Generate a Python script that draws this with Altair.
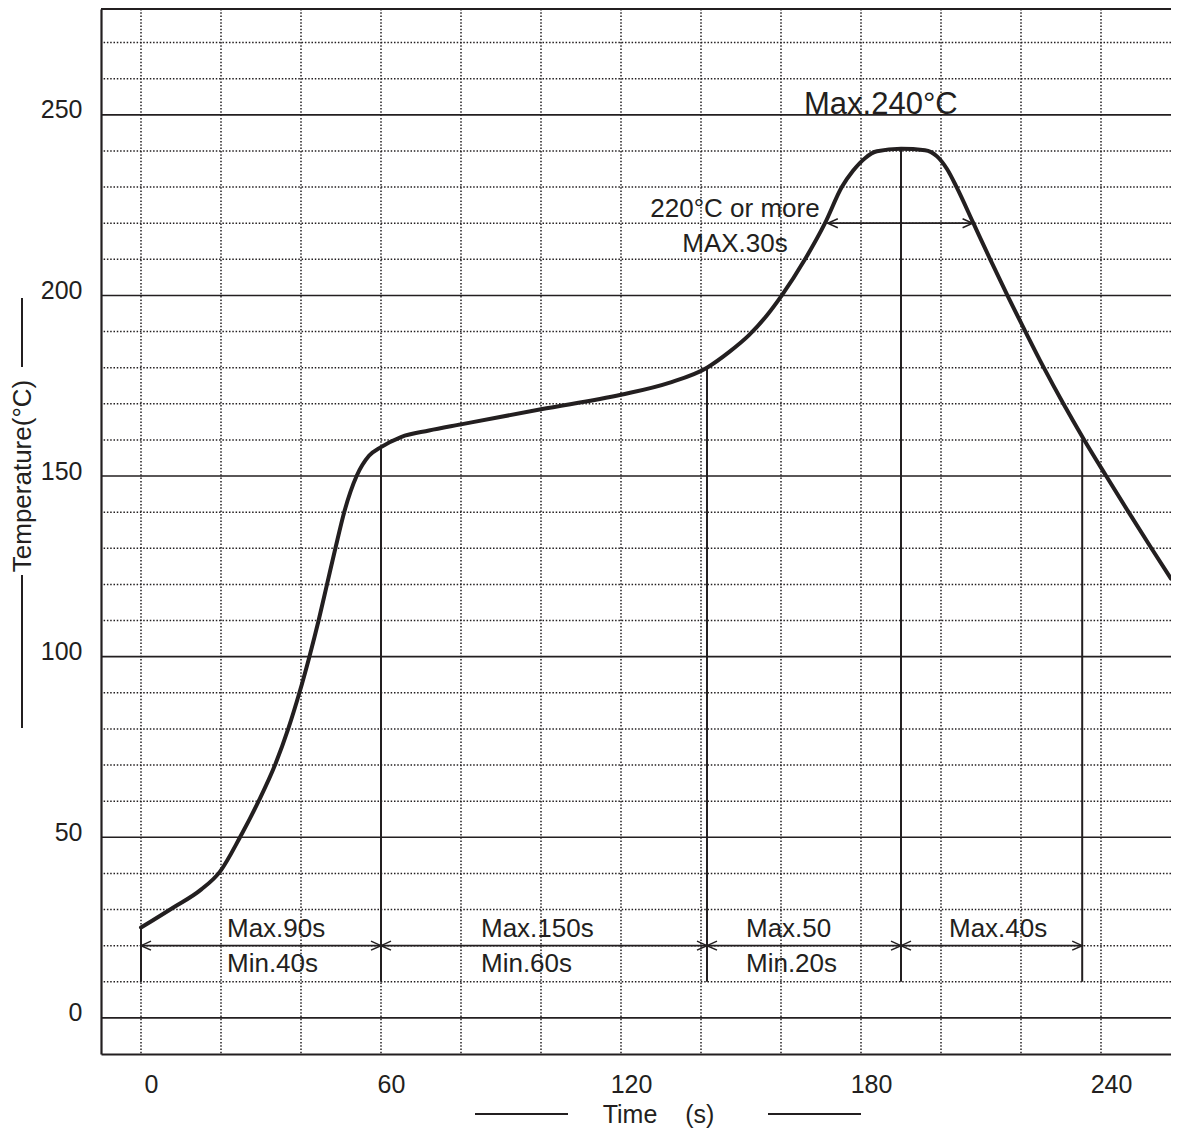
import altair as alt
import pandas as pd

INK = "#231f20"
FONT = "Liberation Sans"

# ---- reflow profile curve (time s, temperature °C) ----
curve_time = [0, 8, 15, 19.75, 24.75, 29.4, 33.5, 36.8, 39.6, 42.1,
              44.4, 46.5, 48.6, 50.8, 53.9, 57, 60, 65, 72, 80,
              100, 120, 132, 141.5, 147, 152, 156.5, 160.2, 166, 171,
              175.2, 178, 181, 184, 190, 196, 199, 201.5, 203.9, 208.1,
              212.3, 216.6, 221.1, 225.7, 230.6, 235.8, 241.3, 246.9, 252.6, 257.5]
curve_temp = [25, 30.5, 35.5, 40.5, 50, 60, 70, 80, 90, 100,
              110, 120, 130, 140, 150, 155.6, 158, 160.8, 162.6, 164.3,
              168.5, 172.5, 175.8, 180, 184.3, 189, 194.5, 200, 210, 220,
              230, 234.5, 238, 239.9, 240.6, 240.2, 238.5, 235, 230, 220,
              210, 200, 190, 180, 170, 160, 150, 140, 130, 121.6]

# ---- phase boundary markers ----
marker_time = [0, 60, 141.5, 190, 235.3]
marker_top = [25, 158, 180, 240.5, 160]
marker_bottom = [10, 10, 10, 10, 10]

# ---- dimension arrows ----
arrow_start = [0, 60, 141.5, 190, 171.7]
arrow_end = [60, 141.5, 190, 235.3, 207.9]
arrow_level = [20, 20, 20, 20, 220]

# ---- annotation texts ----
upper_labels = ["Max.90s", "Max.150s", "Max.50", "Max.40s"]
lower_labels = ["Min.40s", "Min.60s", "Min.20s"]
label_time = [21.5, 85, 151.25, 202]
upper_temp = 22.4
lower_temp = 12.7

peak_labels = ["220°C or more", "MAX.30s"]
peak_label_time = [148.5, 148.5]
peak_label_temp = [221.8, 211.9]

max_label = ["Max.240°C"]
max_label_time = [165.75]
max_label_temp = [250.3]

# ---- axes / grid ----
x_ticks = [0, 60, 120, 180, 240]
y_ticks = [0, 50, 100, 150, 200, 250]
x_grid = [0, 20, 40, 60, 80, 100, 120, 140, 160, 180, 200, 220, 240]
y_grid_minor = [10, 20, 30, 40, 60, 70, 80, 90, 110, 120, 130, 140, 160, 170, 180, 190,
                210, 220, 230, 240, 260, 270]

W, H = 1070, 1045
X_DOMAIN = [-10, 257.5]
Y_DOMAIN = [-10, 279.3]

xax = alt.Axis(values=x_ticks, grid=False, ticks=False, labelFlush=False,
               labelFont=FONT, labelFontSize=25, labelColor=INK, labelPadding=18, labelOffset=10,
               domainColor=INK, domainWidth=2.2,
               title="Time\u00a0\u00a0\u00a0\u00a0(s)", titleFont=FONT, titleFontSize=25,
               titleFontWeight="normal", titleColor=INK, titleX=557, titleY=68,
               titleBaseline="alphabetic", titleAlign="center")
yax = alt.Axis(values=y_ticks, grid=False, ticks=False,
               labelFont=FONT, labelFontSize=25, labelColor=INK, labelPadding=19, labelOffset=-5,
               domainColor=INK, domainWidth=2.2,
               title="Temperature(°C)", titleFont=FONT, titleFontSize=26,
               titleFontWeight="normal", titleColor=INK, titleX=-71, titleY=466.5,
               titleAngle=270, titleBaseline="alphabetic", titleAlign="center")


def X(f):
    return alt.X(f"{f}:Q", scale=alt.Scale(domain=X_DOMAIN, nice=False, zero=False), axis=xax)


def Y(f):
    return alt.Y(f"{f}:Q", scale=alt.Scale(domain=Y_DOMAIN, nice=False, zero=False), axis=yax)


curve_df = pd.DataFrame({"t": curve_time, "T": curve_temp})
marker_df = pd.DataFrame({"t": marker_time, "T": marker_top, "T0": marker_bottom})
arrow_df = pd.DataFrame({"t": arrow_start, "t2": arrow_end, "T": arrow_level})
head_l = pd.DataFrame({"t": arrow_start, "T": arrow_level})
head_r = pd.DataFrame({"t": arrow_end, "T": arrow_level})
upper_df = pd.DataFrame({"t": label_time, "T": [upper_temp] * len(label_time), "txt": upper_labels})
lower_df = pd.DataFrame({"t": label_time[:len(lower_labels)], "T": [lower_temp] * len(lower_labels),
                         "txt": lower_labels})
peak_df = pd.DataFrame({"t": peak_label_time, "T": peak_label_temp, "txt": peak_labels})
max_df = pd.DataFrame({"t": max_label_time, "T": max_label_temp, "txt": max_label})
vgrid_df = pd.DataFrame({"t": x_grid})
hminor_df = pd.DataFrame({"T": y_grid_minor})
hmajor_df = pd.DataFrame({"T": y_ticks})
dummy = pd.DataFrame({"a": [0]})

dots = dict(color=INK, strokeWidth=1.5, strokeDash=[1.5, 1.8])

vgrid = alt.Chart(vgrid_df).mark_rule(**dots).encode(x=X("t"))
hminor = alt.Chart(hminor_df).mark_rule(**dots).encode(y=Y("T"))
hmajor = alt.Chart(hmajor_df).mark_rule(color=INK, strokeWidth=1.6).encode(y=Y("T"))
top_border = alt.Chart(dummy).mark_rule(color=INK, strokeWidth=2.2).encode(
    x=alt.value(0), x2=alt.value(W), y=alt.value(0))

markers = alt.Chart(marker_df).mark_rule(color=INK, strokeWidth=2).encode(
    x=X("t"), y=Y("T"), y2="T0")
arrows = alt.Chart(arrow_df).mark_rule(color=INK, strokeWidth=1.8).encode(
    x=X("t"), x2="t2", y=Y("T"))
heads_left = alt.Chart(head_l).mark_point(
    shape="M2,-0.9L0,0L2,0.9", filled=False, size=100, strokeWidth=1.5, color=INK, opacity=1
).encode(x=X("t"), y=Y("T"))
heads_right = alt.Chart(head_r).mark_point(
    shape="M-2,-0.9L0,0L-2,0.9", filled=False, size=100, strokeWidth=1.5, color=INK, opacity=1
).encode(x=X("t"), y=Y("T"))

curve = alt.Chart(curve_df).mark_line(color=INK, strokeWidth=4, interpolate="monotone",
                                      strokeCap="round", strokeJoin="round").encode(
    x=X("t"), y=Y("T"))

txt_style = dict(font=FONT, color=INK, baseline="alphabetic")
upper_txt = alt.Chart(upper_df).mark_text(align="left", fontSize=26, **txt_style).encode(
    x=X("t"), y=Y("T"), text="txt:N")
lower_txt = alt.Chart(lower_df).mark_text(align="left", fontSize=26, **txt_style).encode(
    x=X("t"), y=Y("T"), text="txt:N")
peak_txt = alt.Chart(peak_df).mark_text(align="center", fontSize=26, **txt_style).encode(
    x=X("t"), y=Y("T"), text="txt:N")
max_txt = alt.Chart(max_df).mark_text(align="left", fontSize=31, **txt_style).encode(
    x=X("t"), y=Y("T"), text="txt:N")

# decorative dashes beside the axis titles
deco_x1 = alt.Chart(dummy).mark_rule(color=INK, strokeWidth=2).encode(
    x=alt.value(374), x2=alt.value(467), y=alt.value(1105))
deco_x2 = alt.Chart(dummy).mark_rule(color=INK, strokeWidth=2).encode(
    x=alt.value(667), x2=alt.value(760), y=alt.value(1105))
deco_y1 = alt.Chart(dummy).mark_rule(color=INK, strokeWidth=2).encode(
    x=alt.value(-79), y=alt.value(289), y2=alt.value(358))
deco_y2 = alt.Chart(dummy).mark_rule(color=INK, strokeWidth=2).encode(
    x=alt.value(-79), y=alt.value(566), y2=alt.value(719))

chart = alt.layer(
    vgrid, hminor, hmajor, top_border, markers, arrows, heads_left, heads_right,
    curve, upper_txt, lower_txt, peak_txt, max_txt, deco_x1, deco_x2, deco_y1, deco_y2
).properties(
    width=W, height=H,
    padding={"left": 93, "top": 1, "right": 0, "bottom": 75},
    autosize=alt.AutoSizeParams(type="none"),
    background="white",
).configure_view(stroke=None)

chart.save("out.html", embed_options={"renderer": "svg", "actions": False})
